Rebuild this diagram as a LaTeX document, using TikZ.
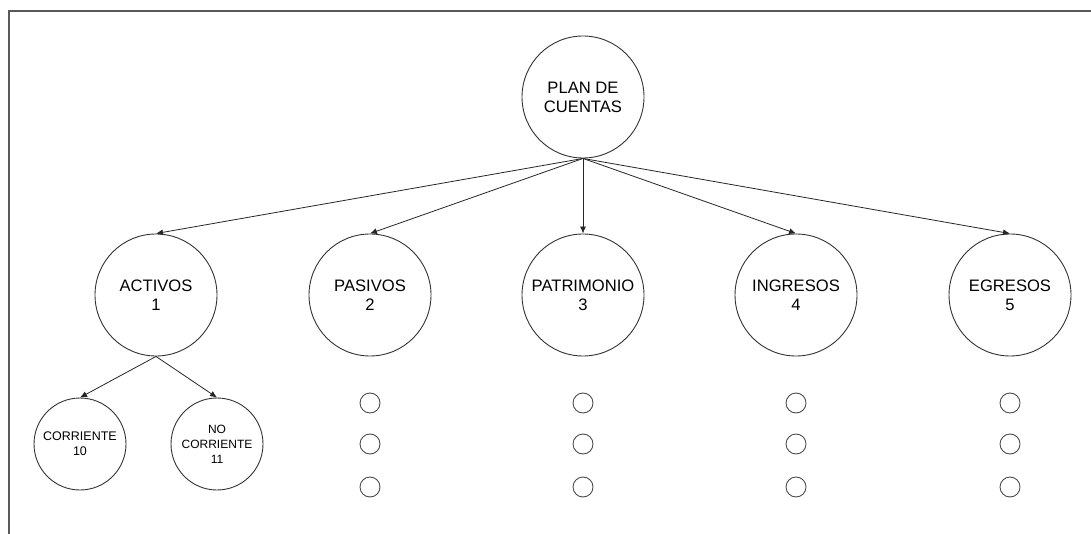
\documentclass[tikz,border=0pt]{standalone}
\usepackage{fontspec}
\setmainfont{Liberation Sans}
\usetikzlibrary{arrows.meta}
\begin{document}
\begin{tikzpicture}[x=1pt,y=-1pt,
  big/.style={circle,draw=black!80,line width=0.9pt,minimum size=122pt,inner sep=0pt,align=center,
    font=\fontsize{16.6}{19}\selectfont},
  small/.style={circle,draw=black!80,line width=0.9pt,minimum size=92pt,inner sep=0pt,align=center,
    font=\fontsize{12.5}{15}\selectfont},
  dot/.style={circle,draw=black!70,line width=0.9pt,minimum size=20pt,inner sep=0pt},
  conn/.style={draw=black!85,line width=0.8pt,-{Latex[length=7pt,width=6pt]}}]
\useasboundingbox (0,0) rectangle (1091,534);
\draw[black!65,line width=2pt] (8.5,534) -- (8.5,11.5) -- (1091,11.5);
\node[big] (root) at (583,97) {PLAN DE\\CUENTAS};
\node[big] (a1) at (156,295) {ACTIVOS\\1};
\node[big] (a2) at (370,295) {PASIVOS\\2};
\node[big] (a3) at (583,295) {PATRIMONIO\\3};
\node[big] (a4) at (796,295) {INGRESOS\\4};
\node[big] (a5) at (1010,295) {EGRESOS\\5};
\node[small] (c10) at (80,444) {CORRIENTE\\10};
\node[small,font=\fontsize{12}{15}\selectfont] (c11) at (217,444) {NO\\CORRIENTE\\11};
\foreach \n/\x in {2/370,3/583,4/796,5/1010}{
  \node[dot] (d\n a) at (\x,403) {};
  \node[dot] (d\n b) at (\x,444) {};
  \node[dot] (d\n c) at (\x,487) {};
}
\foreach \n in {a1,a2,a3,a4,a5}{\draw[conn] (root.south) -- (\n.north);}
\draw[conn] (a1.south) -- (c10.north);
\draw[conn] (a1.south) -- (c11.north);
\end{tikzpicture}
\end{document}
